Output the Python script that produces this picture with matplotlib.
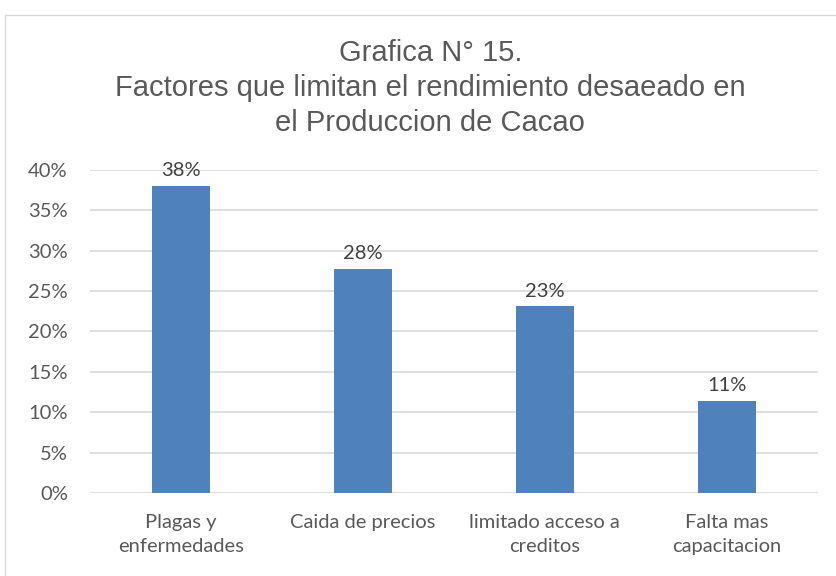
import matplotlib
matplotlib.use("Agg")
import matplotlib.pyplot as plt
from matplotlib.ticker import PercentFormatter

categorias = ["Plagas y\nenfermedades", "Caida de precios", "limitado acceso a\ncreditos", "Falta mas\ncapacitacion"]
valores = [0.380, 0.277, 0.231, 0.114]
etiquetas = ["38%", "28%", "23%", "11%"]

plt.rcParams['font.family'] = ['Lato', 'DejaVu Sans']

fig = plt.figure(figsize=(8.37, 5.76), dpi=100)
ax = fig.add_axes([0.1075, 0.144, 0.8695, 0.561])

x = range(len(categorias))
bars = ax.bar(x, valores, width=0.32, color="#4f81bd", zorder=3)

for b, t in zip(bars, etiquetas):
    ax.annotate(t, (b.get_x() + b.get_width() / 2, b.get_height()),
                xytext=(0, 5), textcoords="offset points",
                ha="center", va="bottom", fontsize=14.5, color="#404040")

ax.set_xlim(-0.5, len(categorias) - 0.5)
ax.set_ylim(0, 0.40)
ax.set_yticks([i * 0.05 for i in range(9)])
ax.yaxis.set_major_formatter(PercentFormatter(1.0, decimals=0))
ax.set_xticks(list(x))
ax.set_xticklabels(categorias, fontsize=14.5, color="#595959", linespacing=1.5)
ax.tick_params(axis="y", labelsize=14.5, colors="#595959", length=0, pad=16)
ax.tick_params(axis="x", length=0, pad=15)
ax.grid(axis="y", color="#d9d9d9", linewidth=1.2, zorder=0)
for s in ax.spines.values():
    s.set_visible(False)

fig.text(0.514, 0.847, "Grafica N° 15.\nFactores que limitan el rendimiento desaeado en\nel Produccion de Cacao",
         ha="center", va="center", fontsize=21, color="#595959", linespacing=1.32,
         family=['Liberation Sans', 'DejaVu Sans'])

fig.patches.append(plt.Rectangle((0.006, -0.01), 1.0, 0.984, transform=fig.transFigure,
                                 fill=False, edgecolor="#d9d9d9", linewidth=1))

fig.savefig("out.png", dpi=100)
